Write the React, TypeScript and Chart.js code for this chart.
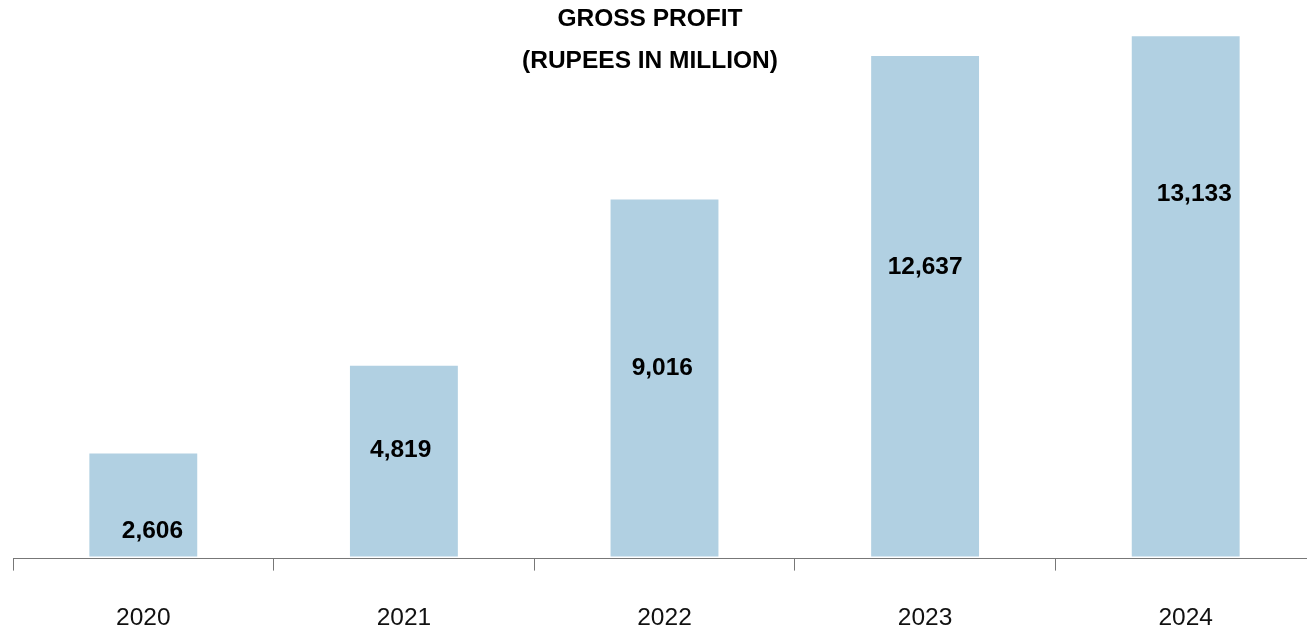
import React, { useEffect, useRef } from "react";
import { Chart, registerables } from "chart.js";

Chart.register(...registerables);

const categories = ["2020", "2021", "2022", "2023", "2024"];
const grossProfit = [2606, 4819, 9016, 12637, 13133];
const valueLabels = ["2,606", "4,819", "9,016", "12,637", "13,133"];
// vertical anchor of each value label, in data units
const labelAnchors = [631, 2677, 4760, 7298, 9141];
const titleLines = ["GROSS PROFIT", "(RUPEES IN MILLION)"];

const FONT = '"Liberation Sans", Arial, Helvetica, sans-serif';
// horizontal nudge of value labels, as a fraction of bar width
const LABEL_NUDGE = [0.085, -0.03, -0.02, 0, 0.08];

const overlayPlugin = {
  id: "overlay",
  afterDatasetsDraw(chart: any) {
    const ctx = chart.ctx;
    const meta = chart.getDatasetMeta(0);
    const yScale = chart.scales.y;
    ctx.save();
    ctx.fillStyle = "#000";
    ctx.font = `bold 24.5px ${FONT}`;
    ctx.textAlign = "center";
    ctx.textBaseline = "middle";
    meta.data.forEach((bar: any, i: number) => {
      const y = yScale.getPixelForValue(labelAnchors[i]);
      const x = bar.x + (LABEL_NUDGE[i] || 0) * bar.width;
      ctx.fillText(valueLabels[i], x, y);
    });
    ctx.font = `bold 24.5px ${FONT}`;
    ctx.fillText(titleLines[0], 650, 19);
    ctx.fillText(titleLines[1], 650, 61);
    ctx.restore();
  },
};

export default function App() {
  const ref = useRef<HTMLCanvasElement | null>(null);
  useEffect(() => {
    if (!ref.current) return;
    const chart = new Chart(ref.current, {
      type: "bar",
      data: {
        labels: categories,
        datasets: [
          {
            data: grossProfit,
            backgroundColor: "#b1d0e2",
            borderWidth: 0,
            barPercentage: 0.414,
            categoryPercentage: 1,
          },
        ],
      },
      options: {
        responsive: false,
        maintainAspectRatio: false,
        animation: false,
        layout: { padding: { top: 2, left: 13, right: 4, bottom: 0 } },
        plugins: {
          legend: { display: false },
          title: { display: false },
          tooltip: { enabled: false },
        },
        scales: {
          y: {
            display: false,
            min: -50,
            max: 14000,
          },
          x: {
            grid: {
              drawOnChartArea: false,
              drawTicks: true,
              tickLength: 12,
              color: "#777",
              offset: true,
            },
            border: { display: true, color: "#777", width: 1 },
            ticks: {
              color: "#111",
              font: { family: FONT, size: 24.5 },
              padding: 33,
              maxRotation: 0,
              autoSkip: false,
            },
          },
        },
      },
      plugins: [overlayPlugin],
    });
    return () => chart.destroy();
  }, []);

  return (
    <div
      style={{
        position: "fixed",
        left: 0,
        top: 0,
        width: 1307,
        height: 632,
        overflow: "hidden",
        background: "#fff",
      }}
    >
      <canvas ref={ref} width={1320} height={666} style={{ width: 1320, height: 666, display: "block" }} />
    </div>
  );
}
